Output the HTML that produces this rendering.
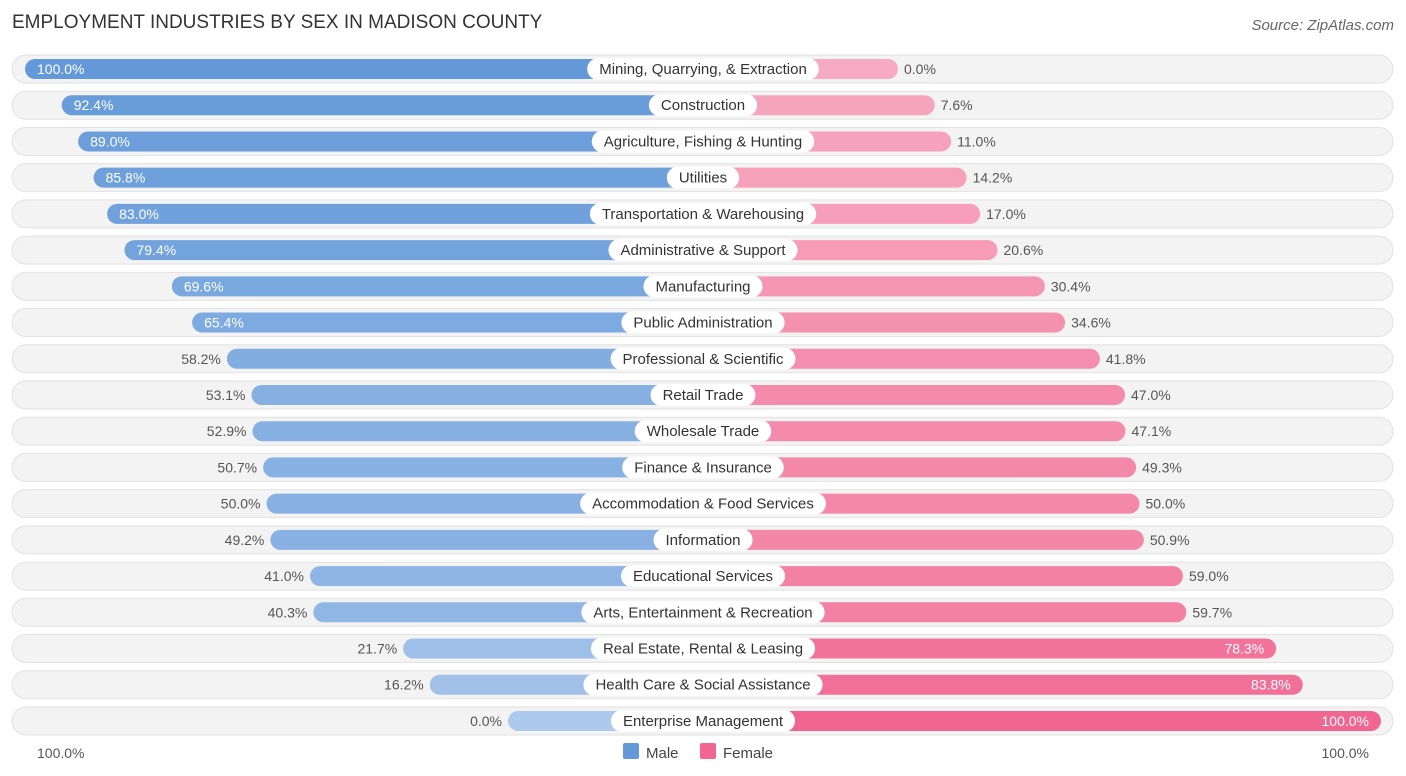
<!DOCTYPE html>
<html><head><meta charset="utf-8"><style>
body{margin:0;background:#fff;font-family:"Liberation Sans",sans-serif;}
svg{display:block}
</style></head><body>
<svg id="chart" width="1406" height="776">
<text x="12" y="28" font-size="19" fill="#333">EMPLOYMENT INDUSTRIES BY SEX IN MADISON COUNTY</text>
<text x="1394" y="30" font-size="15" fill="#666" font-style="italic" text-anchor="end">Source: ZipAtlas.com</text>
<g id="rows"></g>
<text x="37" y="758" font-size="14" fill="#555">100.0%</text>
<text x="1369" y="758" font-size="14" fill="#555" text-anchor="end">100.0%</text>
<rect x="623" y="743" width="16" height="16" rx="2" fill="#6399d9"/>
<text x="646" y="758" font-size="15" fill="#444">Male</text>
<rect x="700" y="743" width="16" height="16" rx="2" fill="#f06592"/>
<text x="723" y="758" font-size="15" fill="#444">Female</text>
</svg>
<script>
const categories=["Mining, Quarrying, & Extraction","Construction","Agriculture, Fishing & Hunting","Utilities","Transportation & Warehousing","Administrative & Support","Manufacturing","Public Administration","Professional & Scientific","Retail Trade","Wholesale Trade","Finance & Insurance","Accommodation & Food Services","Information","Educational Services","Arts, Entertainment & Recreation","Real Estate, Rental & Leasing","Health Care & Social Assistance","Enterprise Management"];
const maleValues=[100.0,92.4,89.0,85.8,83.0,79.4,69.6,65.4,58.2,53.1,52.9,50.7,50.0,49.2,41.0,40.3,21.7,16.2,0.0];
const femaleValues=[0.0,7.6,11.0,14.2,17.0,20.6,30.4,34.6,41.8,47.0,47.1,49.3,50.0,50.9,59.0,59.7,78.3,83.8,100.0];
const NS="http://www.w3.org/2000/svg";
const cx=703,base=195,k=4.83,y0=69,dy=36.22;
function xM(v){return cx-base-v*k;}
function xF(v){return cx+base+v*k;}
function mix(a,b,t){return 'rgb('+a.map((c,i)=>Math.round(c+(b[i]-c)*t)).join(',')+')';}
const g=document.getElementById('rows');
function mk(tag,attrs,parent){const e=document.createElementNS(NS,tag);for(const a in attrs)e.setAttribute(a,attrs[a]);(parent||g).appendChild(e);return e;}
categories.forEach((c,i)=>{
  const y=y0+i*dy;
  const row=mk('g',{});
  
  
  const bg=mk('rect',{x:12,y:y-14,width:1381,height:28,rx:14,fill:'#f3f3f3',stroke:'#e2e2e2'},row);
  
  
  const m=maleValues[i],f=femaleValues[i];
  const mb=mk('rect',{x:xM(m),y:y-10,width:cx-xM(m),height:20,rx:10,fill:mix([173,201,236],[99,153,217],m/100)},row);
  
  
  const fb=mk('rect',{x:cx,y:y-10,width:xF(f)-cx,height:20,rx:10,fill:mix([247,170,195],[240,101,146],f/100)},row);
  
  
  const lab=mk('text',{x:cx,y:y+5,'font-size':15,fill:'#333','text-anchor':'middle'},row);
  lab.textContent=c;
  
  
  const w=lab.getComputedTextLength()+24;
  const pill=mk('rect',{x:cx-w/2,y:y-11,width:w,height:22,rx:11,fill:'#fff'},row);
  
  
  row.appendChild(lab);
  const mIn=m>=60;
  const mt=mk('text',{x:mIn?xM(m)+12:xM(m)-6,y:y+5,'font-size':14,fill:mIn?'#fff':'#555','text-anchor':mIn?'start':'end'},row);
  mt.textContent=m.toFixed(1)+'%';
  
  
  const fIn=f>=60&&f>70;
  const ft=mk('text',{x:fIn?xF(f)-12:xF(f)+6,y:y+5,'font-size':14,fill:fIn?'#fff':'#555','text-anchor':fIn?'end':'start'},row);
  ft.textContent=f.toFixed(1)+'%';
  
  
});
</script>
</body></html>
